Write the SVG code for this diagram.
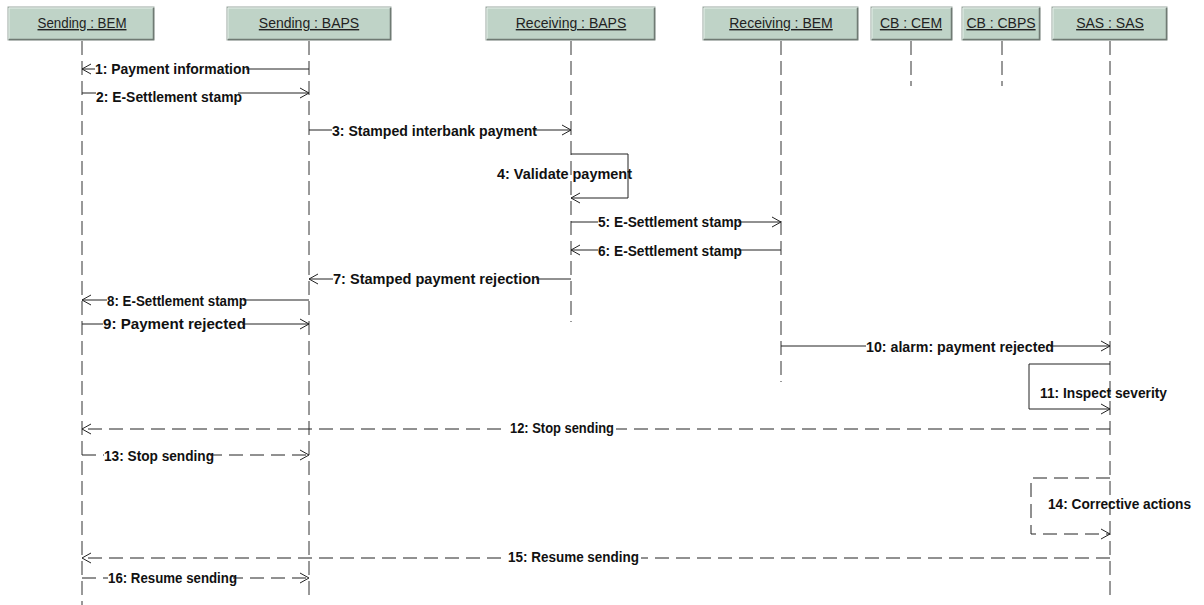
<svg xmlns="http://www.w3.org/2000/svg" width="1204" height="605" viewBox="0 0 1204 605">
<style>
.box{fill:#bfd3c7;stroke:#9aa69f;stroke-width:1}
.hi{fill:none;stroke:#e6efe9;stroke-width:1}
.sh{fill:none;stroke:#6f7a73;stroke-width:1.5}
.name{font-family:"Liberation Sans",Arial,sans-serif;font-size:14px;fill:#222;text-anchor:middle;text-decoration:underline}
.life{stroke:#333;stroke-width:1;stroke-dasharray:14 6;fill:none}
.msg{stroke:#222;stroke-width:1;fill:none;marker-end:url(#arr)}
.dash{stroke-dasharray:14 7}
.lbl{font-family:"Liberation Sans",Arial,sans-serif;font-size:14px;font-weight:bold;fill:#111}
.bg{fill:#fff}
</style>
<defs>
<marker id="arr" markerUnits="userSpaceOnUse" markerWidth="12" markerHeight="12" viewBox="-10 -6 12 12" refX="0" refY="0" orient="auto">
<path d="M-9,-5 L0,0 L-9,5" fill="none" stroke="#222" stroke-width="1" stroke-dasharray="none"/>
</marker>
</defs>
<rect width="1204" height="605" fill="#fff"/>

<g id="node-sending-bem">
<rect class="box" x="8" y="7" width="146" height="33"/>
<polyline class="hi" points="9,39 9,8 153,8"/>
<polyline class="sh" points="9,39.5 153.5,39.5 153.5,8"/>
<text class="name" x="82" y="28" textLength="89" lengthAdjust="spacingAndGlyphs">Sending : BEM</text>
<line class="life" x1="82" y1="41" x2="82" y2="605"/>
</g>
<g id="node-sending-baps">
<rect class="box" x="227" y="7" width="164" height="33"/>
<polyline class="hi" points="228,39 228,8 390,8"/>
<polyline class="sh" points="228,39.5 390.5,39.5 390.5,8"/>
<text class="name" x="309" y="28">Sending : BAPS</text>
<line class="life" x1="309" y1="41" x2="309" y2="595"/>
</g>
<g id="node-receiving-baps">
<rect class="box" x="486" y="7" width="169" height="33"/>
<polyline class="hi" points="487,39 487,8 654,8"/>
<polyline class="sh" points="487,39.5 654.5,39.5 654.5,8"/>
<text class="name" x="571" y="28">Receiving : BAPS</text>
<line class="life" x1="571" y1="41" x2="571" y2="322"/>
</g>
<g id="node-receiving-bem">
<rect class="box" x="703" y="7" width="155" height="33"/>
<polyline class="hi" points="704,39 704,8 857,8"/>
<polyline class="sh" points="704,39.5 857.5,39.5 857.5,8"/>
<text class="name" x="781" y="28">Receiving : BEM</text>
<line class="life" x1="781" y1="41" x2="781" y2="382"/>
</g>
<g id="node-cb-cem">
<rect class="box" x="871" y="7" width="81" height="33"/>
<polyline class="hi" points="872,39 872,8 951,8"/>
<polyline class="sh" points="872,39.5 951.5,39.5 951.5,8"/>
<text class="name" x="911" y="28">CB : CEM</text>
<line class="life" x1="911" y1="41" x2="911" y2="86"/>
</g>
<g id="node-cb-cbps">
<rect class="box" x="962" y="7" width="78" height="33"/>
<polyline class="hi" points="963,39 963,8 1039,8"/>
<polyline class="sh" points="963,39.5 1039.5,39.5 1039.5,8"/>
<text class="name" x="1001" y="28">CB : CBPS</text>
<line class="life" x1="1002" y1="41" x2="1002" y2="86"/>
</g>
<g id="node-sas">
<rect class="box" x="1052" y="7" width="115" height="33"/>
<polyline class="hi" points="1053,39 1053,8 1166,8"/>
<polyline class="sh" points="1053,39.5 1166.5,39.5 1166.5,8"/>
<text class="name" x="1110" y="28">SAS : SAS</text>
<line class="life" x1="1110" y1="41" x2="1110" y2="596"/>
</g>

<g id="connectors">
<line class="msg" x1="309" y1="69" x2="82" y2="69"/>
<line class="msg" x1="82" y1="93" x2="309" y2="93"/>
<line class="msg" x1="309" y1="130" x2="571" y2="130"/>
<polyline class="msg" points="571,154 628,154 628,198 571,198"/>
<line class="msg" x1="571" y1="222" x2="781" y2="222"/>
<line class="msg" x1="781" y1="250" x2="571" y2="250"/>
<line class="msg" x1="571" y1="279" x2="309" y2="279"/>
<line class="msg" x1="309" y1="300" x2="82" y2="300"/>
<line class="msg" x1="82" y1="324" x2="309" y2="324"/>
<line class="msg" x1="781" y1="346" x2="1110" y2="346"/>
<polyline class="msg" points="1110,364 1029,364 1029,409 1110,409"/>
<line class="msg dash" x1="1110" y1="429" x2="82" y2="429"/>
<line class="msg dash" x1="82" y1="455" x2="309" y2="455"/>
<polyline class="msg dash" points="1110,478 1031,478 1031,534 1110,534"/>
<line class="msg dash" x1="1110" y1="558" x2="82" y2="558"/>
<line class="msg dash" x1="82" y1="578" x2="309" y2="578"/>

<g id="labels">
<rect class="bg" x="95" y="62" width="151" height="15"/>
<text class="lbl" x="95" y="74" textLength="155" lengthAdjust="spacingAndGlyphs">1: Payment information</text>
<rect class="bg" x="96" y="91" width="142" height="14"/>
<text class="lbl" x="96" y="102" textLength="146" lengthAdjust="spacingAndGlyphs">2: E-Settlement stamp</text>
<rect class="bg" x="332" y="124" width="201" height="15"/>
<text class="lbl" x="332" y="136" textLength="205" lengthAdjust="spacingAndGlyphs">3: Stamped interbank payment</text>
<text class="lbl" x="497" y="179" textLength="135" lengthAdjust="spacingAndGlyphs">4: Validate payment</text>
<rect class="bg" x="598" y="215" width="140" height="15"/>
<text class="lbl" x="598" y="227" textLength="144" lengthAdjust="spacingAndGlyphs">5: E-Settlement stamp</text>
<rect class="bg" x="598" y="244" width="140" height="15"/>
<text class="lbl" x="598" y="256" textLength="144" lengthAdjust="spacingAndGlyphs">6: E-Settlement stamp</text>
<rect class="bg" x="333" y="272" width="203" height="15"/>
<text class="lbl" x="333" y="284" textLength="207" lengthAdjust="spacingAndGlyphs">7: Stamped payment rejection</text>
<rect class="bg" x="107" y="294" width="136" height="15"/>
<text class="lbl" x="107" y="306" textLength="140" lengthAdjust="spacingAndGlyphs">8: E-Settlement stamp</text>
<rect class="bg" x="103" y="317" width="139" height="15"/>
<text class="lbl" x="103" y="329" textLength="143" lengthAdjust="spacingAndGlyphs">9: Payment rejected</text>
<rect class="bg" x="866" y="340" width="184" height="15"/>
<text class="lbl" x="866" y="352" textLength="188" lengthAdjust="spacingAndGlyphs">10: alarm: payment rejected</text>
<text class="lbl" x="1040" y="398" textLength="127" lengthAdjust="spacingAndGlyphs">11: Inspect severity</text>
<rect class="bg" x="508" y="421" width="108" height="15"/>
<text class="lbl" x="510" y="433" textLength="104" lengthAdjust="spacingAndGlyphs">12: Stop sending</text>
<rect class="bg" x="104" y="449" width="106" height="15"/>
<text class="lbl" x="104" y="461" textLength="110" lengthAdjust="spacingAndGlyphs">13: Stop sending</text>
<text class="lbl" x="1048" y="509" textLength="143" lengthAdjust="spacingAndGlyphs">14: Corrective actions</text>
<rect class="bg" x="506" y="550" width="135" height="15"/>
<text class="lbl" x="508" y="562" textLength="131" lengthAdjust="spacingAndGlyphs">15: Resume sending</text>
<rect class="bg" x="108" y="571" width="125" height="15"/>
<text class="lbl" x="108" y="583" textLength="129" lengthAdjust="spacingAndGlyphs">16: Resume sending</text>
</g>
</g>
</svg>
